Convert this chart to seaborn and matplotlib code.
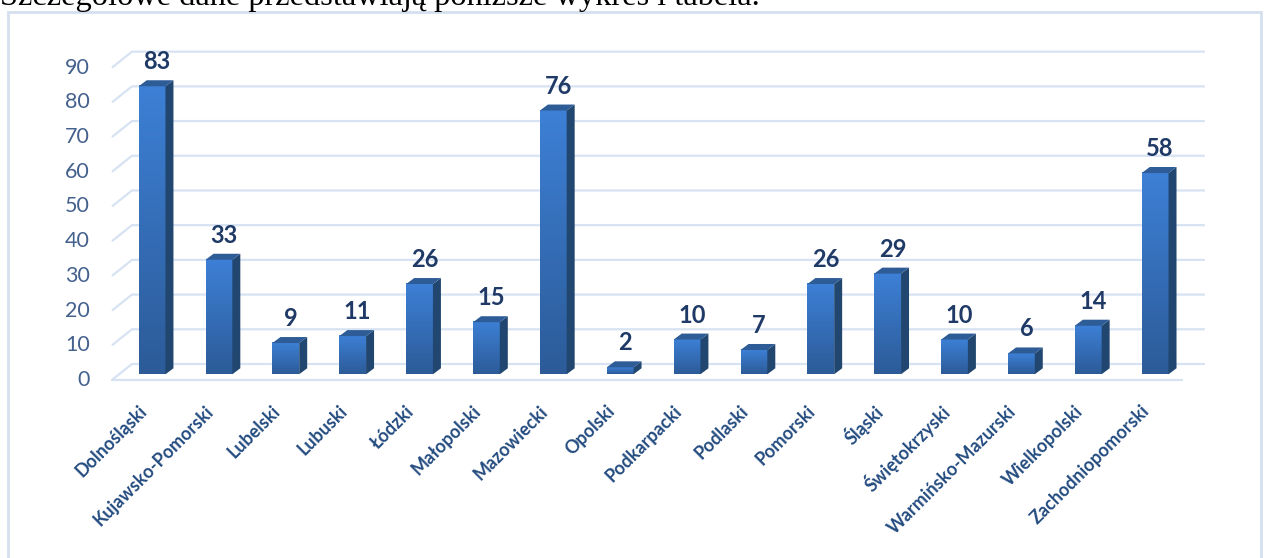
import numpy as np
import pandas as pd
import matplotlib
matplotlib.use('Agg')
import matplotlib.pyplot as plt
import matplotlib.transforms as mtransforms
import seaborn as sns
from matplotlib.patches import Polygon, Rectangle
from matplotlib.colors import LinearSegmentedColormap

# data
regions = ['Dolnośląski', 'Kujawsko-Pomorski', 'Lubelski', 'Lubuski', 'Łódzki',
           'Małopolski', 'Mazowiecki', 'Opolski', 'Podkarpacki', 'Podlaski',
           'Pomorski', 'Śląski', 'Świętokrzyski', 'Warmińsko-Mazurski',
           'Wielkopolski', 'Zachodniopomorski']
counts = [83, 33, 9, 11, 26, 15, 76, 2, 10, 7, 26, 29, 10, 6, 14, 58]
y_ticks = list(range(0, 100, 10))

df = pd.DataFrame({'region': regions, 'count': counts})

sns.set_style('white')
plt.rcParams['font.family'] = ['Lato', 'DejaVu Sans']

# colours
front_top = '#3d80d6'
front_bot = '#2c5b98'
side_col = '#21466f'
top_col = '#2e5c96'
grid_col = '#d7e3f3'
value_col = '#1f3a66'
xlab_col = '#244c80'
ylab_col = '#44618e'

fig = plt.figure(figsize=(12.65, 5.58), dpi=100)
ax = fig.add_axes([0.0885, 0.3106, 0.8458, 0.6219])

sns.barplot(data=df, x='region', y='count', width=0.4, color=front_bot,
            saturation=1, ax=ax, zorder=3)

xlim = (-0.6, 15.4)
ylim = (-3, 97)
# pixel -> data unit helpers for the fake 3d depth
px_x = 1070 / (xlim[1] - xlim[0])
px_y = 347 / (ylim[1] - ylim[0])
dxb, dyb = 8 / px_x, 6 / px_y

cmap = LinearSegmentedColormap.from_list('bar', [front_bot, front_top])
grad = np.linspace(0, 1, 256).reshape(-1, 1)

for p, val in zip(list(ax.patches), counts):
    x0, w, h = p.get_x(), p.get_width(), p.get_height()
    x1 = x0 + w
    ax.imshow(grad, extent=(x0, x1, 0, h), aspect='auto', cmap=cmap,
              origin='lower', zorder=4)
    ax.add_patch(Polygon([(x1, 0), (x1 + dxb, dyb), (x1 + dxb, h + dyb), (x1, h)],
                         closed=True, facecolor=side_col, edgecolor='none', zorder=4))
    ax.add_patch(Polygon([(x0, h), (x1, h), (x1 + dxb, h + dyb), (x0 + dxb, h + dyb)],
                         closed=True, facecolor=top_col, edgecolor='none', zorder=4))
    ax.text(x0 + w / 2 + 5 / px_x, h + dyb + 7 / px_y, str(val), ha='center', va='bottom',
            fontsize=17, fontweight='bold', color=value_col, zorder=5)

# back wall gridlines with a slanted left edge
front_off = -5.7 / px_y
back_off = 10.3 / px_y
for v in y_ticks:
    ax.plot([xlim[0], xlim[0] + 20 / px_x, xlim[1] + 23 / px_x],
            [v + front_off, v + back_off, v + back_off],
            color=grid_col, lw=1.6, zorder=0, clip_on=False, solid_capstyle='butt')
    ax.text(-22 / 1070, v + front_off, str(v), transform=ax.get_yaxis_transform(),
            ha='right', va='center', fontsize=15.5, color=ylab_col)
# floor front edge
ax.plot([xlim[0], xlim[1]], [front_off, front_off], color=grid_col, lw=1.6,
        zorder=0, clip_on=False)

ax.set_xlim(*xlim)
ax.set_ylim(*ylim)
ax.set_yticks([])
ax.set_xlabel('')
ax.set_ylabel('')
ax.set_xticks(range(len(regions)))
ax.set_xticklabels(regions, rotation=45, ha='right', va='center', rotation_mode='anchor',
                   fontsize=13, fontweight='bold', color=xlab_col)
ax.tick_params(axis='x', length=0, pad=17)
shift = mtransforms.ScaledTranslation(-0.08, 0, fig.dpi_scale_trans)
for lbl in ax.get_xticklabels():
    lbl.set_transform(lbl.get_transform() + shift)
sns.despine(ax=ax, left=True, bottom=True)

# outer frame and the cut-off sentence above it
fig.patches.append(Rectangle((8 / 1265, -0.05), 1253 / 1265, 1.05 - 12.3 / 558,
                             transform=fig.transFigure, fill=False,
                             edgecolor='#d5e0ef', lw=2))
fig.text(0, 1 - 4.5 / 558, 'Szczegółowe dane przedstawiają poniższe wykres i tabela.',
         family='Liberation Serif', fontsize=23.3, va='baseline', ha='left', color='black')

fig.savefig('out.png', dpi=100)
